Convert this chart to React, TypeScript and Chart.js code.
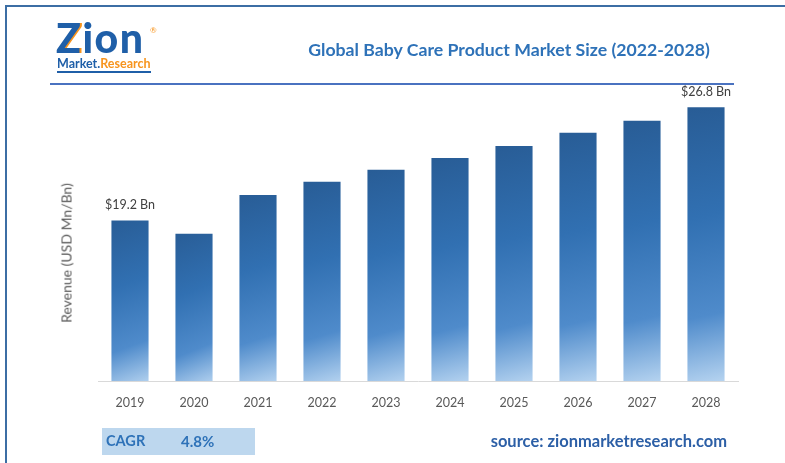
import React, { useEffect, useRef } from "react";
import { Chart, registerables } from "chart.js";

Chart.register(...registerables);

const years = ["2019", "2020", "2021", "2022", "2023", "2024", "2025", "2026", "2027", "2028"];
const revenue = [19.2, 18.3, 20.9, 21.8, 22.6, 23.4, 24.2, 25.1, 25.9, 26.8];
const valueLabels = ["$19.2 Bn", "", "", "", "", "", "", "", "", "$26.8 Bn"];
const axisMin = 8.4;
const axisMax = 28;

const FONT = "Lato, 'Noto Sans', sans-serif";

const valueLabelPlugin = {
  id: "valueLabels",
  afterDatasetsDraw(chart: any) {
    const meta = chart.getDatasetMeta(0);
    const c = chart.ctx;
    c.save();
    c.font = "12.5px " + FONT;
    c.fillStyle = "#404040";
    c.textAlign = "center";
    c.textBaseline = "middle";
    meta.data.forEach((bar: any, i: number) => {
      if (valueLabels[i]) c.fillText(valueLabels[i], bar.x, bar.y - 15);
    });
    c.restore();
  },
};

export default function App() {
  const ref = useRef<HTMLCanvasElement | null>(null);

  useEffect(() => {
    if (!ref.current) return;
    const chart = new Chart(ref.current, {
      type: "bar",
      data: {
        labels: years,
        datasets: [
          {
            data: revenue,
            barPercentage: 0.58,
            categoryPercentage: 1,
            borderWidth: 0,
            backgroundColor: (ctx: any) => {
              const ch = ctx.chart;
              const { chartArea, scales } = ch;
              if (!chartArea || ctx.type !== "data" || !scales.x || !scales.y) return "#3370b0";
              const x = scales.x.getPixelForValue(ctx.dataIndex);
              const yTop = scales.y.getPixelForValue(ctx.raw);
              const yBot = scales.y.getPixelForValue(axisMin);
              const half = 18.5;
              const g = ch.ctx.createLinearGradient(x - half * 1.6, yTop, x + half * 1.6, yBot);
              g.addColorStop(0, "#285c95");
              g.addColorStop(0.4, "#3170b2");
              g.addColorStop(0.75, "#4f8bcb");
              g.addColorStop(1, "#b8d5f1");
              return g;
            },
          },
        ],
      },
      options: {
        animation: false,
        responsive: false,
        layout: { padding: { top: 89.5, left: 98, right: 47, bottom: 39 } },
        plugins: { legend: { display: false }, tooltip: { enabled: false } },
        scales: {
          x: {
            grid: { display: false, drawTicks: false },
            border: { display: true, color: "#d9d9d9", width: 1 },
            ticks: { color: "#595959", font: { family: FONT, size: 12.5 }, padding: 14 },
          },
          y: { display: false, min: axisMin, max: axisMax },
        },
      },
      plugins: [valueLabelPlugin],
    });
    return () => chart.destroy();
  }, []);

  return (
    <div style={{ position: "relative", width: 785, height: 463, overflow: "hidden", background: "#fff", fontFamily: FONT }}>
      <style>{"body{margin:0}"}</style>
      <div style={{ position: "absolute", left: 5, top: 5, width: 800, height: 480, borderLeft: "2px solid #3c6ea4", borderTop: "2px solid #3c6ea4" }} />
      <canvas ref={ref} width={785} height={463} style={{ position: "absolute", left: 0, top: 0 }} />
      {/* logo */}
      <div style={{ position: "absolute", left: 56, top: 12, fontSize: 41, fontWeight: 900, color: "#1f5fa8", letterSpacing: 1.5, lineHeight: "52px" }}>
        <span style={{ color: "#1f5fa8", textShadow: "2px 0 0 #f7941d" }}>Z</span>ion
        <span style={{ position: "absolute", left: 94, top: -8, fontSize: 8, fontWeight: 400, color: "#f7941d", letterSpacing: 0 }}>®</span>
      </div>
      <div style={{ position: "absolute", left: 57, top: 57, fontSize: 12.5, fontWeight: 700, lineHeight: "14px", borderBottom: "2px solid #1f5fa8" }}>
        <span style={{ color: "#1f5fa8" }}>Market.</span>
        <span style={{ color: "#f7941d" }}>Research</span>
      </div>
      {/* title */}
      <div style={{ position: "absolute", left: 300, top: 39, width: 418, textAlign: "center", fontSize: 17.7, fontWeight: 700, color: "#2e72b8", whiteSpace: "nowrap" }}>
        Global Baby Care Product Market Size (2022-2028)
      </div>
      <div style={{ position: "absolute", left: 50, top: 83, width: 684, height: 2, background: "#4a72c0" }} />
      {/* y axis title */}
      <div style={{ position: "absolute", left: 66, top: 253, transform: "translate(-50%, -50%) rotate(-90deg)", fontSize: 14, color: "#595959", whiteSpace: "nowrap" }}>
        Revenue (USD Mn/Bn)
      </div>
      {/* CAGR */}
      <div style={{ position: "absolute", left: 102, top: 428, width: 153, height: 27, background: "#bdd7ee" }} />
      <div style={{ position: "absolute", left: 106, top: 432, fontSize: 14.5, fontWeight: 700, color: "#2e72b8", lineHeight: "18px" }}>CAGR</div>
      <div style={{ position: "absolute", left: 181, top: 432, fontSize: 15, fontWeight: 700, color: "#2e72b8", lineHeight: "18px" }}>4.8%</div>
      {/* source */}
      <div style={{ position: "absolute", right: 785 - 727, top: 431, fontSize: 16.5, fontWeight: 700, color: "#2c5fa6", lineHeight: "20px", whiteSpace: "nowrap" }}>
        source: zionmarketresearch.com
      </div>
    </div>
  );
}
